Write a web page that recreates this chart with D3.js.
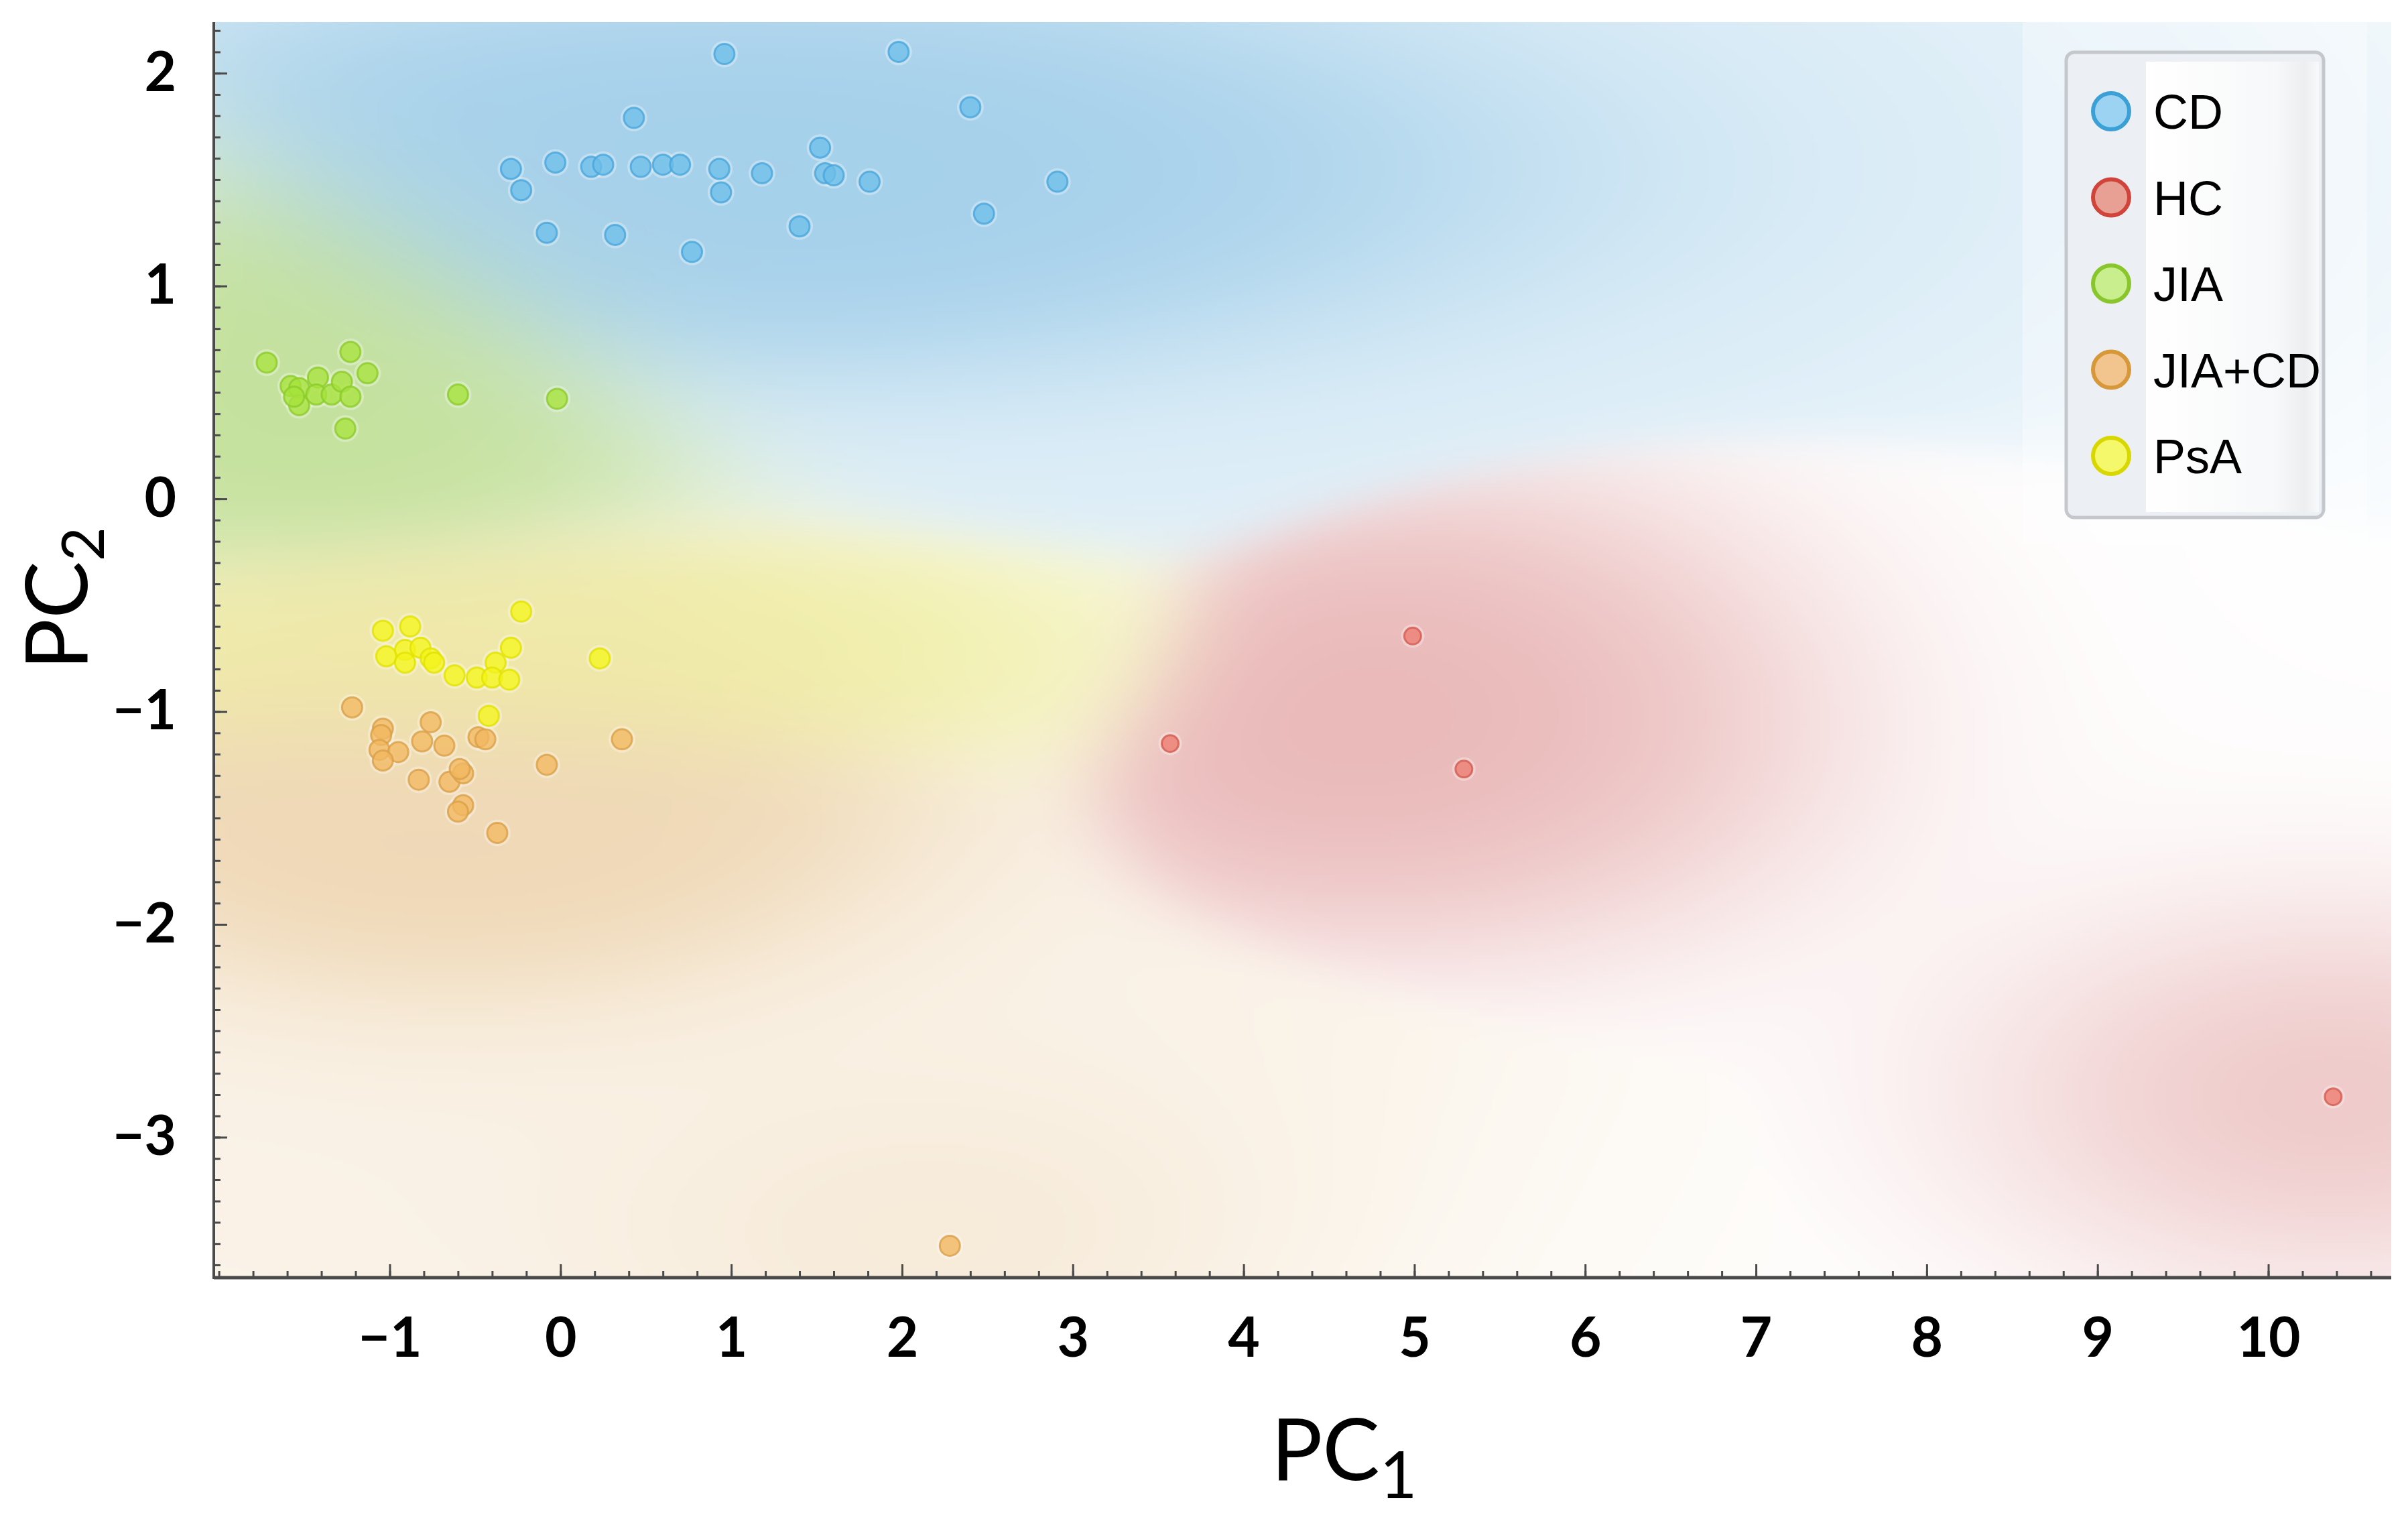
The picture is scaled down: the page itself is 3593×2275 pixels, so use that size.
<!DOCTYPE html>
<html>
<head>
<meta charset="utf-8">
<script src="https://cdn.jsdelivr.net/npm/d3@7"></script>
<style>
  html, body { margin: 0; padding: 0; background: #fff; }
  svg { display: block; }
</style>
</head>
<body>
<div id="chart"></div>
<script>
// Class names, in legend order
const classNames = ["CD", "HC", "JIA", "JIA+CD", "PsA"];

// Scores: [PC1, PC2]
const cdPoints = [
  [0.96, 2.09], [1.98, 2.10], [2.40, 1.84], [0.43, 1.79], [1.52, 1.65],
  [-0.29, 1.55], [-0.03, 1.58], [0.18, 1.56], [0.25, 1.57], [0.47, 1.56],
  [0.60, 1.57], [0.70, 1.57], [0.93, 1.55], [1.18, 1.53], [1.55, 1.53],
  [1.60, 1.52], [1.81, 1.49], [2.91, 1.49], [-0.23, 1.45], [0.94, 1.44],
  [2.48, 1.34], [-0.08, 1.25], [0.32, 1.24], [1.40, 1.28], [0.77, 1.16]
];
const hcPoints = [
  [3.57, -1.15], [4.99, -0.645], [5.29, -1.27], [10.38, -2.81]
];
const jiaPoints = [
  [-1.72, 0.64], [-1.23, 0.69], [-1.13, 0.59], [-1.58, 0.53], [-1.53, 0.52],
  [-1.53, 0.44], [-1.42, 0.57], [-1.43, 0.49], [-1.34, 0.49], [-1.28, 0.55],
  [-1.23, 0.48], [-1.26, 0.33], [-0.60, 0.49], [-0.02, 0.47], [-1.56, 0.48]
];
const jiaCdPoints = [
  [-1.22, -0.98], [-1.04, -1.08], [-1.05, -1.11], [-1.06, -1.18], [-0.95, -1.19],
  [-1.04, -1.23], [-0.76, -1.05], [-0.81, -1.14], [-0.68, -1.16], [-0.48, -1.12],
  [-0.44, -1.13], [0.36, -1.13], [-0.08, -1.25], [-0.83, -1.32], [-0.65, -1.33],
  [-0.57, -1.29], [-0.59, -1.27], [-0.57, -1.44], [-0.60, -1.47], [-0.37, -1.57],
  [2.28, -3.51]
];
const psaPoints = [
  [-0.23, -0.53], [-1.04, -0.62], [-0.88, -0.60], [-1.02, -0.74], [-0.91, -0.71],
  [-0.82, -0.70], [-0.91, -0.77], [-0.76, -0.75], [-0.74, -0.77], [-0.29, -0.70],
  [-0.38, -0.77], [-0.62, -0.83], [-0.49, -0.84], [-0.40, -0.84], [-0.30, -0.85],
  [0.23, -0.75], [-0.42, -1.02]
];
const pointSets = [cdPoints, hcPoints, jiaPoints, jiaCdPoints, psaPoints];

// Tick values
const xTicks = [-1, 0, 1, 2, 3, 4, 5, 6, 7, 8, 9, 10];
const yTicks = [-3, -2, -1, 0, 1, 2];

// Chart dimensions and margins
const width = 3593;
const height = 2275;
const marginTop = 33;
const marginRight = 25;
const marginBottom = 369;
const marginLeft = 319;

// Colours
const markFill = ["#6cbde9", "#ec7b6e", "#a6e23c", "#f1b860", "#f4f41c"];
const markStroke = ["#48a6dc", "#d35b50", "#8ccc2a", "#dba049", "#e2e200"];
const keyFill = ["#9dd3f2", "#e8a095", "#c8ee8e", "#f2c48e", "#f6f86c"];
const keyStroke = ["#3aa0d5", "#d0443c", "#88c62c", "#d69838", "#d8d800"];
const shadeColor = ["#a5d0ea", "#e8b4b4", "#c4e19c", "#efd8b6", "#efefa2"];
// background shading kernels: region (cx, cy, w), depth near points (ix, iy, k),
// wide faint tint (tx, ty, kt, base)
const shadeParams = [
  { cx: 1.45, cy: 0.75, w: 1.0, ix: 2.2, iy: 0.45, k: 5, tx: 4.0, ty: 1.0, kt: 2, base: 0.38 },
  { cx: 1.0, cy: 0.45, w: 0.6, ix: 1.3, iy: 0.55, k: 0.9, tx: 2.0, ty: 1.0, kt: 1, base: 0.1 },
  { cx: 1.4, cy: 0.75, w: 1.0, ix: 1.1, iy: 0.55, k: 3, tx: 2.0, ty: 1.0, kt: 2, base: 0.28 },
  { cx: 1.4, cy: 0.75, w: 0.8, ix: 1.3, iy: 0.5, k: 3, tx: 3.0, ty: 1.5, kt: 2, base: 0.34 },
  { cx: 1.6, cy: 0.40, w: 1.0, ix: 1.8, iy: 0.4, k: 3, tx: 2.5, ty: 0.7, kt: 2, base: 0.32 }
];

const x = d3.scaleLinear().domain([-2.03, 10.72]).range([marginLeft, width - marginRight]);
const y = d3.scaleLinear().domain([-3.66, 2.24]).range([height - marginBottom, marginTop]);

const svg = d3.create("svg")
    .attr("width", width)
    .attr("height", height);
document.getElementById("chart").append(svg.node());

const plotW = x.range()[1] - x.range()[0];
const plotH = y.range()[0] - y.range()[1];

svg.append("clipPath").attr("id", "plotClip")
  .append("rect")
    .attr("x", marginLeft).attr("y", marginTop)
    .attr("width", plotW).attr("height", plotH);

// Background shading: smoothed class regions computed from the points
const step = 5;
const gw = Math.ceil(plotW / step);
const gh = Math.ceil(plotH / step);
const canvas = document.createElement("canvas");
canvas.width = gw;
canvas.height = gh;
const ctx = canvas.getContext("2d");
const img = ctx.createImageData(gw, gh);
const gamma = 2.5;
const rgbs = shadeColor.map(c => d3.rgb(c));
const nC = pointSets.length;
const logS = new Array(nC);
const depth = new Array(nC);

function gauss(dx, dy, sx, sy) {
  const a = dx / sx, b = dy / sy;
  return Math.exp(-0.5 * (a * a + b * b));
}

for (let j = 0; j < gh; j++) {
  const py = y.invert(marginTop + (j + 0.5) * step);
  for (let i = 0; i < gw; i++) {
    const px = x.invert(marginLeft + (i + 0.5) * step);
    let maxL = -Infinity;
    for (let c = 0; c < nC; c++) {
      const p = shadeParams[c];
      let s = 0, d = 0, dt = 0;
      for (const pt of pointSets[c]) {
        const ddx = px - pt[0], ddy = py - pt[1];
        s += gauss(ddx, ddy, p.cx, p.cy);
        d += gauss(ddx, ddy, p.ix, p.iy);
        dt += gauss(ddx, ddy, p.tx, p.ty);
      }
      logS[c] = Math.log(s * p.w + 1e-300);
      const deep = 1 - Math.exp(-d / p.k);
      const tint = p.base * (1 - Math.exp(-dt / p.kt));
      depth[c] = 1 - (1 - tint) * (1 - deep);
      if (logS[c] > maxL) maxL = logS[c];
    }
    let wsum = 0, r = 0, g = 0, bl = 0;
    for (let c = 0; c < nC; c++) {
      const wgt = Math.exp(gamma * (logS[c] - maxL));
      const t = depth[c];
      r += wgt * (255 + (rgbs[c].r - 255) * t);
      g += wgt * (255 + (rgbs[c].g - 255) * t);
      bl += wgt * (255 + (rgbs[c].b - 255) * t);
      wsum += wgt;
    }
    const idx = (j * gw + i) * 4;
    img.data[idx] = r / wsum;
    img.data[idx + 1] = g / wsum;
    img.data[idx + 2] = bl / wsum;
    img.data[idx + 3] = 255;
  }
}
ctx.putImageData(img, 0, 0);

svg.append("image")
    .attr("href", canvas.toDataURL())
    .attr("x", marginLeft)
    .attr("y", marginTop)
    .attr("width", gw * step)
    .attr("height", gh * step)
    .attr("preserveAspectRatio", "none")
    .attr("clip-path", "url(#plotClip)");

// Faint panel behind the legend
svg.append("rect")
    .attr("x", 3018).attr("y", marginTop)
    .attr("width", 514).attr("height", 778)
    .attr("fill", "#ffffff")
    .attr("fill-opacity", 0.35);

// Points
const pts = svg.append("g").attr("clip-path", "url(#plotClip)");
pointSets.forEach((set, c) => {
  const r = classNames[c] === "HC" ? 12.5 : 15;
  pts.append("g").selectAll("circle")
    .data(set)
    .join("circle")
      .attr("cx", d => x(d[0]))
      .attr("cy", d => y(d[1]))
      .attr("r", r + 5)
      .attr("fill", "#ffffff")
      .attr("fill-opacity", 0.3);
  pts.append("g").selectAll("circle")
    .data(set)
    .join("circle")
      .attr("cx", d => x(d[0]))
      .attr("cy", d => y(d[1]))
      .attr("r", r)
      .attr("fill", markFill[c])
      .attr("fill-opacity", 0.8)
      .attr("stroke", markStroke[c])
      .attr("stroke-width", 3)
      .attr("stroke-opacity", 0.8);
});

// Axes
const axisColor = "#4a4a4a";
const xMinor = d3.range(-10, 54).map(i => i / 5);
const yMinor = d3.range(-36, 23).map(i => i / 10);

const gx = svg.append("g").attr("transform", `translate(0,${y.range()[0]})`);
gx.append("g")
    .call(d3.axisBottom(x).tickValues(xMinor).tickSize(-10).tickFormat(""));
gx.append("g")
    .call(d3.axisBottom(x).tickValues(xTicks).tickSize(-20).tickPadding(60)
      .tickFormat(d3.format("d")));

const gy = svg.append("g").attr("transform", `translate(${x.range()[0]},0)`);
gy.append("g")
    .call(d3.axisLeft(y).tickValues(yMinor).tickSize(-10).tickFormat(""));
gy.append("g")
    .call(d3.axisLeft(y).tickValues(yTicks).tickSize(-20).tickPadding(56)
      .tickFormat(d3.format("d")));

svg.selectAll(".domain").remove();
svg.selectAll(".tick line").attr("stroke", axisColor).attr("stroke-width", 3);
svg.selectAll(".tick text")
    .attr("fill", "#000")
    .style("font-family", "Lato, 'Open Sans', sans-serif")
    .style("font-weight", "bold")
    .style("font-size", "82px");

svg.append("line")
    .attr("x1", x.range()[0]).attr("x2", x.range()[1])
    .attr("y1", y.range()[0]).attr("y2", y.range()[0])
    .attr("stroke", axisColor).attr("stroke-width", 5);
svg.append("line")
    .attr("x1", x.range()[0]).attr("x2", x.range()[0])
    .attr("y1", y.range()[1]).attr("y2", y.range()[0] + 2)
    .attr("stroke", axisColor).attr("stroke-width", 4);

// Axis titles
const xTitle = svg.append("text")
    .attr("x", (x.range()[0] + x.range()[1]) / 2 + 62)
    .attr("y", 2208)
    .attr("text-anchor", "middle")
    .style("font-family", "Lato, 'Open Sans', sans-serif")
    .style("font-size", "128px")
    .text("PC");
xTitle.append("tspan")
    .attr("dy", "0.28em")
    .style("font-size", "96px")
    .text("1");

const yTitle = svg.append("text")
    .attr("transform", `translate(130,893) rotate(-90)`)
    .attr("text-anchor", "middle")
    .style("font-family", "Lato, 'Open Sans', sans-serif")
    .style("font-size", "128px")
    .text("PC");
yTitle.append("tspan")
    .attr("dy", "0.28em")
    .style("font-size", "88px")
    .text("2");

// Legend
const legend = svg.append("g");
const grad = svg.append("defs").append("linearGradient")
    .attr("id", "legendGrad").attr("x1", "0").attr("x2", "1");
grad.append("stop").attr("offset", "0").attr("stop-color", "#ffffff");
grad.append("stop").attr("offset", "0.75").attr("stop-color", "#f7f8f9");
grad.append("stop").attr("offset", "0.92").attr("stop-color", "#eceef0");
grad.append("stop").attr("offset", "1").attr("stop-color", "#f8f9fa");

legend.append("rect")
    .attr("x", 3083).attr("y", 78)
    .attr("width", 384).attr("height", 694)
    .attr("rx", 12)
    .attr("fill", "#eceff3")
    .attr("stroke", "#c4c8cc")
    .attr("stroke-width", 5);
legend.append("rect")
    .attr("x", 3202).attr("y", 92)
    .attr("width", 258).attr("height", 672)
    .attr("fill", "url(#legendGrad)");

const keyY = d3.scalePoint().domain(classNames).range([166, 680]);
const item = legend.selectAll("g.item")
  .data(classNames)
  .join("g")
    .attr("class", "item")
    .attr("transform", d => `translate(3150,${keyY(d)})`);
item.append("circle")
    .attr("r", 27)
    .attr("fill", (d, i) => keyFill[i])
    .attr("stroke", (d, i) => keyStroke[i])
    .attr("stroke-width", 6);
item.append("text")
    .attr("x", 63)
    .attr("y", 26)
    .style("font-family", "'Liberation Sans', Arial, sans-serif")
    .style("font-size", "72px")
    .attr("fill", "#000")
    .text(d => d);
</script>
</body>
</html>
